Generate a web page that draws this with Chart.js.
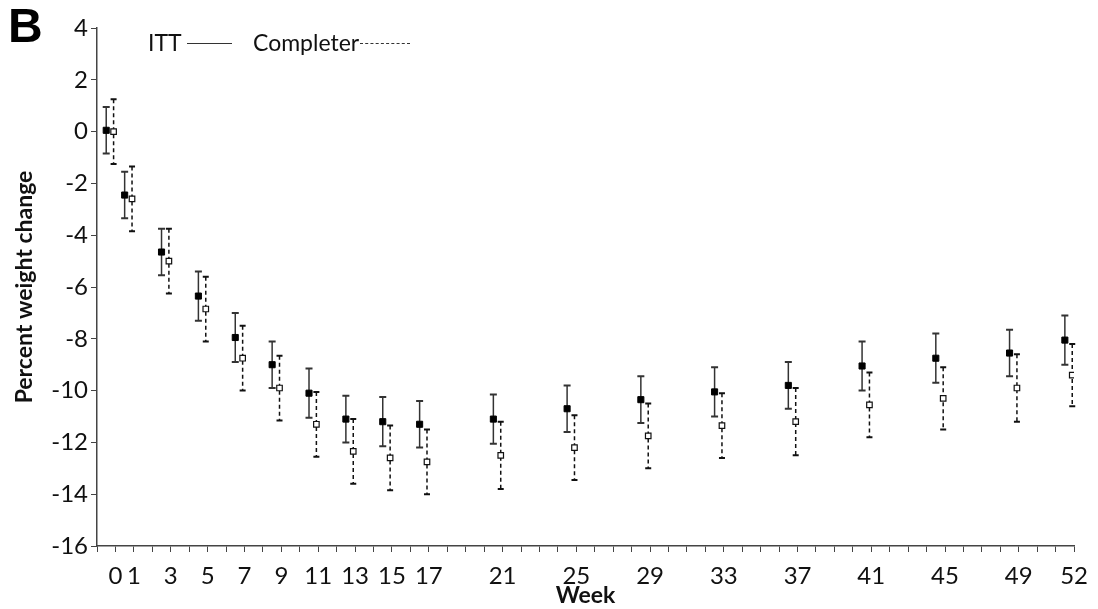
<!DOCTYPE html>
<html>
<head>
<meta charset="utf-8">
<script src="https://cdn.jsdelivr.net/npm/chart.js"></script>
<style>
  body { margin: 0; background: #fff; }
  #wrap { position: relative; width: 1098px; height: 609px; font-family: Lato, sans-serif; }
  #chart { position: absolute; left: 0; top: 0; }
  #panel { position: absolute; left: 8px; top: -2px; font: bold 48px "Liberation Sans", Arial, sans-serif; color: #000; }
  .leg { position: absolute; top: 28px; font-size: 23px; color: #111; white-space: nowrap; }
  .leg-line { position: absolute; top: 43px; height: 0; }
</style>
</head>
<body>
<div id="wrap">
  <canvas id="chart" width="1098" height="609"></canvas>
  <div id="panel">B</div>
  <div class="leg" style="left:148px">ITT</div>
  <div class="leg-line" style="left:187px;width:45px;border-top:1px solid #333"></div>
  <div class="leg" style="left:253px">Completer</div>
  <div class="leg-line" style="left:360px;width:50px;border-top:1px dashed #333"></div>
</div>
<script>
// semaines et valeurs
const weeks = [0, 1, 3, 5, 7, 9, 11, 13, 15, 17, 21, 25, 29, 33, 37, 41, 45, 49, 52];
const ittMean = [0.05, -2.45, -4.65, -6.35, -7.95, -9.0, -10.1, -11.1, -11.2, -11.3, -11.1, -10.7, -10.35, -10.05, -9.8, -9.05, -8.75, -8.55, -8.05];
const ittErr = [0.9, 0.9, 0.9, 0.95, 0.95, 0.9, 0.95, 0.9, 0.95, 0.9, 0.95, 0.9, 0.9, 0.95, 0.9, 0.95, 0.95, 0.9, 0.95];
const compMean = [0.0, -2.6, -5.0, -6.85, -8.75, -9.9, -11.3, -12.35, -12.6, -12.75, -12.5, -12.2, -11.75, -11.35, -11.2, -10.55, -10.3, -9.9, -9.4];
const compErr = [1.25, 1.25, 1.25, 1.25, 1.25, 1.25, 1.25, 1.25, 1.25, 1.25, 1.3, 1.25, 1.25, 1.25, 1.3, 1.25, 1.2, 1.3, 1.2];
const tickLabels = ['0', '1', '3', '5', '7', '9', '11', '13', '15', '17', '21', '25', '29', '33', '37', '41', '45', '49', '52'];
const yTicks = [4, 2, 0, -2, -4, -6, -8, -10, -12, -14, -16];

// décalage horizontal des deux séries (en semaines)
const ittShift = -0.5;
const compShift = -0.1;

const ittPoints = weeks.map((w, i) => ({ x: w + ittShift, y: ittMean[i], e: ittErr[i] }));
const compPoints = weeks.map((w, i) => ({ x: w + compShift, y: compMean[i], e: compErr[i] }));

// barres d'erreur dessinées avant les marqueurs
const errorBars = {
    id: 'errorBars',
    beforeDatasetsDraw(chart) {
        const ctx = chart.ctx;
        const xs = chart.scales.x, ys = chart.scales.y;
        chart.data.datasets.forEach(ds => {
            ctx.save();
            ctx.strokeStyle = ds.barColor;
            ds.data.forEach(p => {
                const px = xs.getPixelForValue(p.x);
                const top = ys.getPixelForValue(p.y + p.e);
                const bot = ys.getPixelForValue(p.y - p.e);
                ctx.lineWidth = 1.5;
                ctx.setLineDash(ds.barDash);
                ctx.beginPath();
                ctx.moveTo(px, top);
                ctx.lineTo(px, bot);
                ctx.stroke();
                ctx.setLineDash([]);
                ctx.lineWidth = 2;
                ctx.beginPath();
                ctx.moveTo(px - ds.capHalf, top);
                ctx.lineTo(px + ds.capHalf, top);
                ctx.moveTo(px - ds.capHalf, bot);
                ctx.lineTo(px + ds.capHalf, bot);
                ctx.stroke();
            });
            ctx.restore();
        });
    }
};

const ctx = document.getElementById('chart').getContext('2d');
new Chart(ctx, {
    type: 'scatter',
    data: {
        datasets: [
            {
                label: 'ITT',
                data: ittPoints,
                pointStyle: 'rect',
                pointRadius: 4.3,
                backgroundColor: '#000',
                borderColor: '#000',
                borderWidth: 1,
                barColor: '#333',
                barDash: [],
                capHalf: 3.5
            },
            {
                label: 'Completer',
                data: compPoints,
                pointStyle: 'rect',
                pointRadius: 3.9,
                backgroundColor: '#fff',
                borderColor: '#111',
                borderWidth: 1.2,
                barColor: '#111',
                barDash: [4, 3],
                capHalf: 3
            }
        ]
    },
    options: {
        responsive: false,
        animation: false,
        layout: { padding: { top: 28, right: 21, bottom: 0, left: 0 } },
        plugins: {
            legend: { display: false },
            tooltip: { enabled: false }
        },
        scales: {
            x: {
                type: 'linear',
                min: -1,
                max: 52,
                afterBuildTicks(scale) {
                    const t = [];
                    for (let v = scale.min; v <= scale.max; v++) t.push({ value: v });
                    scale.ticks = t;
                },
                afterFit(scale) { scale.height = 63; },
                grid: { drawOnChartArea: false, tickLength: 6, color: '#444', lineWidth: 1 },
                border: { color: '#444', width: 1.5 },
                ticks: {
                    autoSkip: false,
                    maxRotation: 0,
                    padding: 10,
                    color: '#111',
                    font: { family: 'Lato', size: 24 },
                    callback: v => tickLabels.includes(String(v)) ? String(v) : ''
                },
                title: {
                    display: true,
                    text: 'Week',
                    color: '#111',
                    font: { family: 'Lato', size: 23, weight: 'bold' },
                    padding: { top: 0, bottom: 0 }
                }
            },
            y: {
                min: -16,
                max: 4,
                afterBuildTicks(scale) { scale.ticks = yTicks.map(v => ({ value: v })); },
                afterFit(scale) { scale.width = 97; },
                grid: { drawOnChartArea: false, tickLength: 6, color: '#444', lineWidth: 1 },
                border: { color: '#444', width: 1.5 },
                ticks: {
                    padding: 3,
                    color: '#111',
                    font: { family: 'Lato', size: 24 }
                },
                title: {
                    display: true,
                    text: 'Percent weight change',
                    color: '#111',
                    font: { family: 'Lato', size: 23, weight: 'bold' },
                    padding: { top: 11, bottom: 0 }
                }
            }
        }
    },
    plugins: [errorBars]
});
</script>
</body>
</html>
